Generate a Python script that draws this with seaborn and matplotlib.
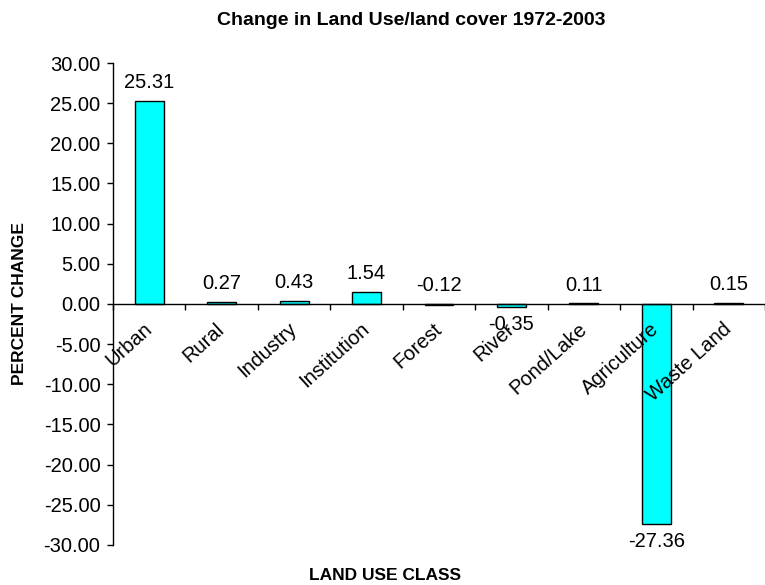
import numpy as np
import pandas as pd
import matplotlib
matplotlib.use('Agg')
import matplotlib.pyplot as plt
import seaborn as sns
from matplotlib.ticker import FormatStrFormatter, FixedLocator

categories = ['Urban', 'Rural', 'Industry', 'Institution', 'Forest',
              'River', 'Pond/Lake', 'Agriculture', 'Waste Land']
pct_change = [25.31, 0.27, 0.43, 1.54, -0.12, -0.35, 0.11, -27.36, 0.15]

df = pd.DataFrame({'land_use': categories, 'change': pct_change})

sns.set_style('ticks')
plt.rcParams['font.family'] = ['Liberation Sans', 'DejaVu Sans']
plt.rcParams.update({'text.color': 'black', 'axes.labelcolor': 'black',
                     'xtick.color': 'black', 'ytick.color': 'black'})

fig = plt.figure(figsize=(7.65, 5.85), dpi=100)
ax = fig.add_axes([0.1477, 0.0684, 0.8523, 0.8239])

sns.barplot(data=df, x='land_use', y='change', color='#00FFFF',
            edgecolor='black', linewidth=1, width=0.4, saturation=1, ax=ax)
ax.set_axisbelow(False)  # category names are drawn over the bars

ax.set_xlim(-0.5, len(categories) - 0.5)
ax.set_ylim(-30, 30)
ax.set_yticks(np.arange(-30, 31, 5))
ax.yaxis.set_major_formatter(FormatStrFormatter('%.2f'))

ax.spines['top'].set_visible(False)
ax.spines['right'].set_visible(False)
ax.spines['bottom'].set_position(('data', 0))
for s in ['left', 'bottom']:
    ax.spines[s].set_linewidth(1)
    ax.spines[s].set_color('black')

# category boundaries get the tick marks, labels sit at the centres
ax.xaxis.set_minor_locator(FixedLocator(np.arange(-0.5, len(categories), 1)))
ax.tick_params(axis='x', which='major', length=0, pad=16)
ax.tick_params(axis='x', which='minor', length=4, width=1, direction='out')
ax.tick_params(axis='y', length=4, width=1, direction='out', labelsize=14.5, pad=5)
ax.set_xticks(range(len(categories)))
ax.set_xticklabels(categories, rotation=42, ha='right', va='center',
                   rotation_mode='anchor', fontsize=14.5)

for i, v in enumerate(pct_change):
    if v > -0.2:
        ax.annotate(f'{v:.2f}', (i, max(v, 0)), xytext=(0, 13), textcoords='offset points',
                    ha='center', va='center', fontsize=14.5)
    else:
        ax.annotate(f'{v:.2f}', (i, v), xytext=(0, -13), textcoords='offset points',
                    ha='center', va='center', fontsize=14.5)

ax.set_xlabel('')
ax.set_ylabel('PERCENT CHANGE', fontsize=12.5, fontweight='bold', labelpad=12)
fig.text(0.503, 0.017, 'LAND USE CLASS', ha='center', va='center',
         fontsize=12.5, fontweight='bold')
fig.text(0.537, 0.965, 'Change in Land Use/land cover 1972-2003', ha='center', va='center',
         fontsize=14, fontweight='bold')

fig.savefig('out.png', dpi=100)
